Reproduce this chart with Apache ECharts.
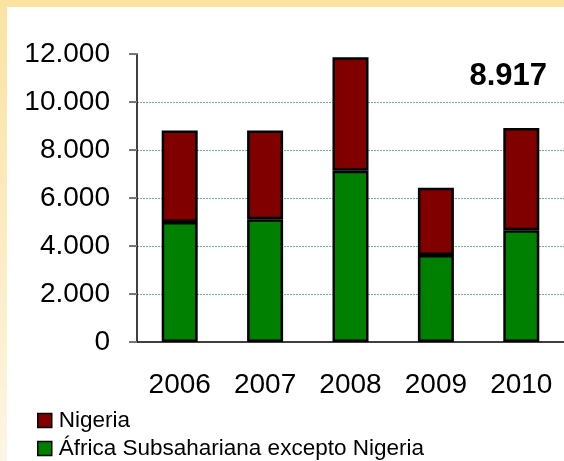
<!DOCTYPE html>
<html>
<head>
<meta charset="utf-8">
<script src="https://cdn.jsdelivr.net/npm/echarts@6/dist/echarts.min.js"></script>
<style>
    body { margin: 0; }
    #wrap {
        position: relative;
        width: 564px;
        height: 461px;
        background: linear-gradient(to bottom, #fbe2a0, #fdf5e4);
        overflow: hidden;
    }
    #panel {
        position: absolute;
        left: 7px;
        top: 7px;
        right: 0;
        bottom: 0;
        background: #fff;
    }
    #chart {
        position: absolute;
        left: 0;
        top: 0;
        width: 564px;
        height: 461px;
    }
</style>
</head>
<body>
<div id="wrap">
    <div id="panel"></div>
    <div id="chart"></div>
</div>
<script>
    // datos
    var years = ['2006', '2007', '2008', '2009', '2010']
    var resto = [5000, 5110, 7140, 3620, 4660]
    var nigeria = [3810, 3700, 4720, 2810, 4257]
    var yTicks = [0, 2000, 4000, 6000, 8000, 10000, 12000]
    var names = ['Nigeria', 'África Subsahariana excepto Nigeria']

    function miles(v) {
        return String(v).replace(/\B(?=(\d{3})+(?!\d))/g, '.')
    }

    var last = years.length - 1
    var total = resto[last] + nigeria[last]

    var grid = 'rgba(60,170,120,0.8)'
    // una leyenda por fila
    function leyenda(name, top) {
        return {
            left: 37,
            top: top,
            padding: 0,
            icon: 'rect',
            itemWidth: 14,
            itemHeight: 14,
            data: [name],
            itemStyle: { borderColor: '#000', borderWidth: 1.5 },
            textStyle: { fontSize: 22.5, color: '#000', padding: [0, 0, 0, 2] }
        }
    }

    var chart = echarts.init(document.getElementById('chart'))
    chart.setOption({
        animation: false,
        textStyle: { fontFamily: 'Liberation Sans, Arial, sans-serif', color: '#000' },
        grid: { left: 137, top: 54, width: 428, height: 288 },
        legend: [leyenda(names[0], 409), leyenda(names[1], 437)],
        graphic: [{
            type: 'text',
            right: 17,
            top: 61,
            style: {
                text: miles(total),
                font: 'bold 31px Liberation Sans, Arial, sans-serif',
                fill: '#000'
            }
        }],
        xAxis: {
            type: 'category',
            data: years,
            axisLine: { lineStyle: { color: '#000', width: 1.5 } },
            axisTick: { length: 9, lineStyle: { color: '#aaa', width: 2 } },
            axisLabel: { fontSize: 28, color: '#000', margin: 29 }
        },
        yAxis: {
            type: 'value',
            min: yTicks[0],
            max: yTicks[yTicks.length - 1],
            interval: 2000,
            axisLine: { show: true, lineStyle: { color: '#000', width: 1.5 } },
            axisTick: { show: true, length: 8, lineStyle: { color: '#777', width: 2 } },
            axisLabel: { fontSize: 28, color: '#000', margin: 27, formatter: miles },
            splitLine: {
                show: true,
                lineStyle: {
                    type: [2, 1],
                    width: 1,
                    color: ['rgba(0,0,0,0)', grid, grid, grid, grid, grid, 'rgba(0,0,0,0)']
                }
            }
        },
        series: [
            {
                name: names[1],
                type: 'bar',
                stack: 'total',
                barWidth: 36,
                data: resto,
                itemStyle: { color: '#008000', borderColor: '#000', borderWidth: 2.5 }
            },
            {
                name: names[0],
                type: 'bar',
                stack: 'total',
                barWidth: 36,
                data: nigeria,
                itemStyle: { color: '#800000', borderColor: '#000', borderWidth: 2.5 }
            }
        ]
    })
</script>
</body>
</html>
